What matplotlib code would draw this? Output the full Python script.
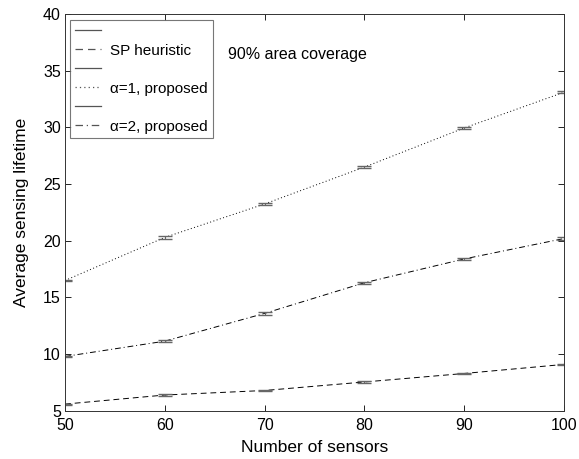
import numpy as np
import matplotlib
matplotlib.use("Agg")
import matplotlib.pyplot as plt
from matplotlib.lines import Line2D

plt.rcParams['font.family'] = ['Liberation Sans', 'DejaVu Sans']
plt.rcParams['font.size'] = 11

# data
sensors = [50, 60, 70, 80, 90, 100]
sp_heuristic = [5.6, 6.4, 6.8, 7.55, 8.3, 9.1]
alpha1 = [16.5, 20.3, 23.25, 26.5, 29.95, 33.1]
alpha2 = [9.8, 11.15, 13.6, 16.3, 18.4, 20.2]
sp_err = [0.05, 0.06, 0.05, 0.06, 0.06, 0.05]
alpha1_err = [0.08, 0.1, 0.1, 0.1, 0.1, 0.1]
alpha2_err = [0.08, 0.1, 0.12, 0.1, 0.1, 0.1]

fig = plt.figure(figsize=(5.79, 4.59), dpi=100)
ax = fig.add_axes([0.1123, 0.1048, 0.8618, 0.8647])

series = [
    (sp_heuristic, sp_err, (0, (6, 4)), 'SP heuristic'),
    (alpha1, alpha1_err, (0, (1, 2.5)), '\u03b1=1, proposed'),
    (alpha2, alpha2_err, (0, (6, 3, 1, 3)), '\u03b1=2, proposed'),
]

handles = []
labels = []
for vals, err, ls, name in series:
    ax.plot(sensors, vals, color='black', lw=0.7, linestyle=ls)
    ax.errorbar(sensors, vals, yerr=err, fmt='none', ecolor='#666666',
                elinewidth=0.8, capsize=5, capthick=1.0)
    handles.append(Line2D([], [], color='#555555', lw=0.9))
    labels.append(' ')
    handles.append(Line2D([], [], color='#555555', lw=0.9, linestyle=ls))
    labels.append(name)

ax.set_xlim(50, 100)
ax.set_ylim(5, 40)
ax.set_xticks(np.arange(50, 101, 10))
ax.set_yticks(np.arange(5, 41, 5))
ax.tick_params(direction='in', top=True, right=True, length=4, width=0.6,
               labelsize=11.5)
ax.tick_params(axis='x', pad=5)
ax.tick_params(axis='y', pad=3)
for s in ax.spines.values():
    s.set_linewidth(0.7)
    s.set_color('#333333')

ax.set_xlabel('Number of sensors', fontsize=12.5, labelpad=5)
ax.set_ylabel('Average sensing lifetime', fontsize=12.5, labelpad=10)

ax.text(66.3, 36.4, '90% area coverage', fontsize=11.5, va='center', ha='left')

leg = ax.legend(handles, labels, loc='upper left', bbox_to_anchor=(0.01, 0.985),
                fontsize=11, frameon=True, fancybox=False, handlelength=1.75,
                handletextpad=0.6, labelspacing=0.33, borderpad=0.3,
                borderaxespad=0)
leg.get_frame().set_edgecolor('#555555')
leg.get_frame().set_linewidth(0.8)

fig.savefig('out.png', dpi=100)
